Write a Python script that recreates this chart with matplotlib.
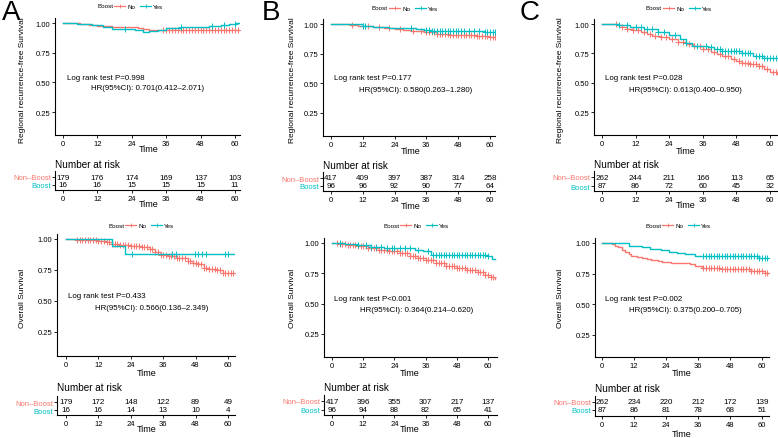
import numpy as np
import matplotlib
matplotlib.use("Agg")
import matplotlib.pyplot as plt
from matplotlib.lines import Line2D

plt.rcParams['font.family'] = ['Liberation Sans', 'DejaVu Sans']

RED = '#F8766D'
TEAL = '#00BFC4'

# ---------------- DATA ----------------
times_ticks = [0, 12, 24, 36, 48, 60]
group_labels = ['Non\u2013Boost', 'Boost']
panel_letters = ['A', 'B', 'C']
ylabels = ['Regional recurrence-free Survival', 'Overall Survival']

# Panel A - regional recurrence-free survival
A_rrfs_no_t = [0, 6, 9, 12, 15, 17, 26, 28, 30, 62.5]
A_rrfs_no_s = [1.0, 0.995, 0.985, 0.978, 0.972, 0.968, 0.96, 0.95, 0.94, 0.94]
A_rrfs_no_cens = [35, 36, 37, 38, 39, 40, 41, 42, 43, 44, 45, 46, 47, 48, 49, 50,
                  51, 52, 53, 54, 55, 56, 57, 58, 59, 60, 61, 62]
A_rrfs_yes_t = [0, 5, 10, 14, 17, 25, 28, 30, 33, 36, 41, 51, 55, 58, 60.5, 62.5]
A_rrfs_yes_s = [1.0, 0.99, 0.98, 0.965, 0.952, 0.945, 0.925, 0.935, 0.945, 0.955,
                0.968, 0.972, 0.98, 0.99, 1.0, 1.0]
A_rrfs_yes_cens = [21.5, 41, 52, 56, 60]
A_rrfs_risk_no = [179, 176, 174, 169, 137, 103]
A_rrfs_risk_yes = [16, 16, 15, 15, 15, 11]
A_rrfs_p = 'Log rank test P=0.998'
A_rrfs_hr = 'HR(95%CI): 0.701(0.412\u20132.071)'

# Panel A - overall survival
A_os_no_t = [0, 4, 8, 12, 15, 17, 20, 24, 28, 31, 33, 35, 38, 41, 45, 47, 49, 51,
             53, 56, 58, 63.5]
A_os_no_s = [1.0, 0.995, 0.99, 0.984, 0.975, 0.96, 0.95, 0.944, 0.936, 0.92, 0.895,
             0.87, 0.86, 0.845, 0.825, 0.81, 0.795, 0.77, 0.755, 0.75, 0.725, 0.725]
A_os_no_cens = [4, 5, 6, 7, 8, 9, 10, 11, 12, 13, 14, 15, 16, 17, 18, 19, 20, 21,
                22, 23, 24, 25, 26, 27, 28, 29, 30, 31, 32, 33, 34, 35, 36, 37, 38,
                39, 40, 41, 42, 43, 44, 45, 46, 47, 48, 49, 50, 51, 52, 53, 54, 55,
                56, 57, 58, 59, 60, 61, 62]
A_os_yes_t = [0, 17, 22, 63.5]
A_os_yes_s = [1.0, 0.94, 0.876, 0.876]
A_os_yes_cens = [24.5, 39.3, 40.9, 47.7, 49, 50.2, 52, 58.8, 60.1]
A_os_risk_no = [179, 172, 148, 122, 89, 49]
A_os_risk_yes = [16, 16, 14, 13, 10, 4]
A_os_p = 'Log rank test P=0.433'
A_os_hr = 'HR(95%CI): 0.566(0.136\u20132.349)'

# Panel B - regional recurrence-free survival
B_rrfs_no_t = [0, 7, 10, 13, 16, 20, 24, 27, 30, 35, 40, 45, 50, 55, 60, 62.5]
B_rrfs_no_s = [1.0, 0.993, 0.987, 0.982, 0.977, 0.97, 0.96, 0.95, 0.944, 0.93,
               0.917, 0.91, 0.905, 0.898, 0.89, 0.888]
B_rrfs_no_cens = [8, 12, 14, 18, 22, 26, 31, 34, 36, 37, 38, 39, 40, 41, 42, 43, 44,
                  45, 46, 47, 48, 49, 50, 51, 52, 53, 54, 55, 56, 57, 58, 59, 60, 61, 62]
B_rrfs_yes_t = [0, 12, 16, 22, 27, 32, 35, 38, 45, 58, 62.5]
B_rrfs_yes_s = [1.0, 0.985, 0.977, 0.97, 0.966, 0.958, 0.948, 0.94, 0.938, 0.93, 0.93]
B_rrfs_yes_cens = [12, 13, 30, 36, 37, 38, 39, 40, 41, 42, 43, 44, 45, 46, 47, 48,
                   49, 50, 52, 54, 56, 58, 59, 60, 61, 62]
B_rrfs_risk_no = [417, 409, 397, 387, 314, 258]
B_rrfs_risk_yes = [96, 96, 92, 90, 77, 64]
B_rrfs_p = 'Log rank test P=0.177'
B_rrfs_hr = 'HR(95%CI): 0.580(0.263\u20131.280)'

# Panel B - overall survival
B_os_no_t = [0, 3, 6, 10, 14, 18, 22, 26, 30, 33, 36, 40, 44, 48, 52, 56, 59, 61, 62.5]
B_os_no_s = [1.0, 0.995, 0.985, 0.975, 0.96, 0.945, 0.93, 0.915, 0.89, 0.875, 0.86,
             0.835, 0.81, 0.79, 0.775, 0.76, 0.74, 0.72, 0.705]
B_os_no_cens = [2, 3, 4, 5, 6, 7, 8, 9, 10, 11, 12, 13, 14, 15, 16, 17, 18, 19, 20,
                21, 22, 23, 24, 25, 26, 27, 28, 29, 30, 31, 32, 33, 34, 35, 36, 37, 38,
                39, 40, 41, 42, 43, 44, 45, 46, 47, 48, 49, 50, 51, 52, 53, 54, 55, 56,
                57, 58, 59, 60, 61, 62]
B_os_yes_t = [0, 5, 10, 15, 20, 27, 32, 35, 38, 60, 61.5, 62.5]
B_os_yes_s = [1.0, 0.99, 0.98, 0.97, 0.96, 0.955, 0.945, 0.93, 0.9, 0.89, 0.87, 0.87]
B_os_yes_cens = [3, 10, 13, 15, 17, 19, 21, 23, 24, 26, 28, 30, 33, 37, 39, 40, 41,
                 42, 43, 44, 45, 46, 47, 48, 49, 50, 51, 52, 53, 54, 55, 56, 57, 58,
                 59, 60]
B_os_risk_no = [417, 396, 355, 307, 217, 137]
B_os_risk_yes = [96, 94, 88, 82, 65, 41]
B_os_p = 'Log rank test P<0.001'
B_os_hr = 'HR(95%CI): 0.364(0.214\u20130.620)'

# Panel C - regional recurrence-free survival
C_rrfs_no_t = [0, 5.5, 7, 9, 11, 14, 16, 18, 21, 24, 27, 30, 33, 36, 39, 41, 43, 46,
               48, 50, 53, 56, 58, 60, 62.5]
C_rrfs_no_s = [1.0, 0.99, 0.975, 0.957, 0.945, 0.929, 0.915, 0.9, 0.89, 0.872, 0.85,
               0.83, 0.81, 0.787, 0.765, 0.744, 0.725, 0.7, 0.685, 0.665, 0.655, 0.645,
               0.615, 0.595, 0.57]
C_rrfs_no_cens = [5, 7, 9, 11, 13, 15, 17, 19, 21, 23, 25, 27, 29, 31, 33, 35, 36,
                  38, 40, 42, 44, 45, 47, 49, 50, 51, 52, 53, 54, 55, 56, 57, 59, 61, 62]
C_rrfs_yes_t = [0, 6, 10, 15, 20, 24, 28, 30, 32, 38, 40, 43, 50, 54, 58, 62.5]
C_rrfs_yes_s = [1.0, 0.99, 0.975, 0.955, 0.93, 0.905, 0.875, 0.84, 0.815, 0.805,
                0.787, 0.767, 0.755, 0.73, 0.712, 0.71]
C_rrfs_yes_cens = [6, 9, 12, 14, 16, 18, 20, 22, 26, 30, 34, 37, 39, 41, 42, 43, 44,
                   45, 46, 47, 48, 49, 50, 51, 52, 53, 55, 56, 57, 58, 59, 60, 61, 62]
C_rrfs_risk_no = [262, 244, 211, 166, 113, 65]
C_rrfs_risk_yes = [87, 86, 72, 60, 45, 32]
C_rrfs_p = 'Log rank test P=0.028'
C_rrfs_hr = 'HR(95%CI): 0.613(0.400\u20130.950)'

# Panel C - overall survival
C_os_no_t = [0, 3.6, 5, 6, 7.5, 8.5, 10, 11, 13, 15, 17, 18.5, 21, 22.4, 26, 30, 33,
             35, 37.4, 45, 53.7, 56, 58.6, 61, 62.5]
C_os_no_s = [1.0, 0.99, 0.975, 0.965, 0.945, 0.924, 0.91, 0.897, 0.888, 0.878, 0.87,
             0.861, 0.85, 0.842, 0.838, 0.834, 0.825, 0.815, 0.793, 0.788, 0.785,
             0.775, 0.769, 0.755, 0.747]
C_os_no_cens = [38, 39, 40, 41, 42, 43, 44, 45, 46, 47, 48, 49, 50, 51, 52, 53, 54,
                55, 56, 57, 58, 59, 60, 61, 62]
C_os_yes_t = [0, 10, 15, 18, 22, 25, 28, 31, 35, 59, 62.5]
C_os_yes_s = [1.0, 0.978, 0.965, 0.955, 0.94, 0.93, 0.918, 0.91, 0.897, 0.878, 0.878]
C_os_yes_cens = [38, 39, 40, 41, 42, 43, 44, 45, 46, 47, 48, 49, 50, 51, 52, 53, 54,
                 55, 56, 57, 58, 59, 60, 61, 62]
C_os_risk_no = [262, 234, 220, 212, 172, 139]
C_os_risk_yes = [87, 86, 81, 78, 68, 51]
C_os_p = 'Log rank test P=0.002'
C_os_hr = 'HR(95%CI): 0.375(0.200\u20130.705)'

# ---------------- LAYOUT (pixels) ----------------
W, H = 778, 439
fig = plt.figure(figsize=(W / 100, H / 100), dpi=100)

panels = [
    dict(no=(A_rrfs_no_t, A_rrfs_no_s, A_rrfs_no_cens), yes=(A_rrfs_yes_t, A_rrfs_yes_s, A_rrfs_yes_cens),
         risk=(A_rrfs_risk_no, A_rrfs_risk_yes), p=A_rrfs_p, hr=A_rrfs_hr, ylab=ylabels[0],
         L=55, R=240, x0=63, x60=235, T=19, B=136, y1=24, y25=113,
         tT=172, r1=178, r2=186, tB=191, title_y=165, time1=150, time2=205,
         ylab_x=23, ylab_y=80, p_xy=(67, 78), hr_xy=(91, 89), leg=(97, 7), letter=(2, 0, 'A')),
    dict(no=(A_os_no_t, A_os_no_s, A_os_no_cens), yes=(A_os_yes_t, A_os_yes_s, A_os_yes_cens),
         risk=(A_os_risk_no, A_os_risk_yes), p=A_os_p, hr=A_os_hr, ylab=ylabels[1],
         L=57, R=235, x0=66, x60=228, T=235, B=357, y1=240, y25=333,
         tT=397, r1=403, r2=411, tB=416, title_y=388, time1=373, time2=430,
         ylab_x=23, ylab_y=298, p_xy=(68, 296), hr_xy=(95, 309), leg=(108, 226), letter=None),
    dict(no=(B_rrfs_no_t, B_rrfs_no_s, B_rrfs_no_cens), yes=(B_rrfs_yes_t, B_rrfs_yes_s, B_rrfs_yes_cens),
         risk=(B_rrfs_risk_no, B_rrfs_risk_yes), p=B_rrfs_p, hr=B_rrfs_hr, ylab=ylabels[0],
         L=323, R=495, x0=331, x60=490, T=20, B=137, y1=25, y25=114,
         tT=173, r1=179, r2=187, tB=192, title_y=166, time1=151, time2=207,
         ylab_x=292, ylab_y=80, p_xy=(334, 79), hr_xy=(359, 90), leg=(372, 9), letter=(262, 0, 'B')),
    dict(no=(B_os_no_t, B_os_no_s, B_os_no_cens), yes=(B_os_yes_t, B_os_yes_s, B_os_yes_cens),
         risk=(B_os_risk_no, B_os_risk_yes), p=B_os_p, hr=B_os_hr, ylab=ylabels[1],
         L=324, R=497, x0=332, x60=488, T=239, B=358, y1=244, y25=335,
         tT=396, r1=402, r2=411, tB=416, title_y=388, time1=373, time2=430,
         ylab_x=293, ylab_y=298, p_xy=(334, 300), hr_xy=(360, 311), leg=(383, 226), letter=None),
    dict(no=(C_rrfs_no_t, C_rrfs_no_s, C_rrfs_no_cens), yes=(C_rrfs_yes_t, C_rrfs_yes_s, C_rrfs_yes_cens),
         risk=(C_rrfs_risk_no, C_rrfs_risk_yes), p=C_rrfs_p, hr=C_rrfs_hr, ylab=ylabels[0],
         L=594, R=778, x0=602, x60=770, T=20, B=136, y1=25, y25=113,
         tT=172, r1=178, r2=187, tB=192, title_y=165, time1=151, time2=206,
         ylab_x=561, ylab_y=80, p_xy=(605, 79), hr_xy=(629, 90), leg=(646, 9), letter=(520, 0, 'C')),
    dict(no=(C_os_no_t, C_os_no_s, C_os_no_cens), yes=(C_os_yes_t, C_os_yes_s, C_os_yes_cens),
         risk=(C_os_risk_no, C_os_risk_yes), p=C_os_p, hr=C_os_hr, ylab=ylabels[1],
         L=595, R=769, x0=602, x60=762, T=239, B=358, y1=244, y25=336,
         tT=397, r1=403, r2=411, tB=417, title_y=389, time1=374, time2=435,
         ylab_x=561, ylab_y=298, p_xy=(605, 300), hr_xy=(629, 311), leg=(645, 226), letter=None),
]

FS_TICK = 5.5
FS_TXT = 5.7
FS_LAB = 6.0


def add_px_axes(L, R, T, B):
    return fig.add_axes([L / W, 1 - B / H, (R - L) / W, (B - T) / H])


def style_axes(ax):
    for s in ['top', 'right']:
        ax.spines[s].set_visible(False)
    for s in ['left', 'bottom']:
        ax.spines[s].set_linewidth(0.8)
        ax.spines[s].set_color('black')
    ax.tick_params(length=2.2, width=0.6, pad=1.2, labelsize=FS_TICK, colors='black')
    ax.set_facecolor('none')


def step_value(t, s, x):
    idx = np.searchsorted(np.asarray(t), np.asarray(x), side='right') - 1
    idx = np.clip(idx, 0, len(s) - 1)
    return np.asarray(s)[idx]


for p in panels:
    k = (p['x60'] - p['x0']) / 60.0
    xlim = ((p['L'] - p['x0']) / k, (p['R'] - p['x0']) / k)
    ky = (p['y25'] - p['y1']) / 0.75
    ylim = (1 - (p['B'] - p['y1']) / ky, 1 + (p['y1'] - p['T']) / ky)

    ax = add_px_axes(p['L'], p['R'], p['T'], p['B'])
    style_axes(ax)
    for (t, s, cens), col in [(p['no'], RED), (p['yes'], TEAL)]:
        ax.step(t, s, where='post', color=col, lw=1.0, clip_on=True)
        ax.plot(cens, step_value(t, s, cens), ls='none', marker='+', ms=3.8, mew=0.7,
                color=col, clip_on=True)
    ax.set_xlim(*xlim)
    ax.set_ylim(*ylim)
    ax.set_xticks(times_ticks)
    ax.set_yticks([0.25, 0.50, 0.75, 1.00])
    ax.set_yticklabels(['0.25', '0.50', '0.75', '1.00'])
    fig.text(p['ylab_x'] / W, 1 - p['ylab_y'] / H, p['ylab'], rotation=90,
             ha='center', va='center', fontsize=FS_LAB)
    fig.text((p['x0'] + p['x60']) / 2 / W, 1 - p['time1'] / H, 'Time',
             ha='center', va='center', fontsize=FS_LAB + 0.5)
    fig.text(p['p_xy'][0] / W, 1 - p['p_xy'][1] / H, p['p'], ha='left', va='center',
             fontsize=FS_TXT)
    fig.text(p['hr_xy'][0] / W, 1 - p['hr_xy'][1] / H, p['hr'], ha='left', va='center',
             fontsize=FS_TXT)

    # legend
    lx, ly = p['leg']
    fig.text(lx / W, 1 - ly / H, 'Boost', ha='left', va='center', fontsize=4.5)
    handles = [Line2D([], [], color=RED, marker='+', ms=3, mew=0.6, lw=0.9),
               Line2D([], [], color=TEAL, marker='+', ms=3, mew=0.6, lw=0.9)]
    fig.legend(handles, ['No', 'Yes'], ncol=2, frameon=False, fontsize=4.5,
               loc='center left', bbox_to_anchor=((lx + 17) / W, 1 - ly / H),
               handlelength=1.8, handletextpad=0.3, columnspacing=0.8, borderpad=0,
               borderaxespad=0)

    if p['letter'] is not None:
        lxp, lyp, lt = p['letter']
        fig.text(lxp / W, 1 - lyp / H, lt, ha='left', va='top', fontsize=20)

    # risk table
    tax = add_px_axes(p['L'], p['R'], p['tT'], p['tB'])
    style_axes(tax)
    kr = p['r2'] - p['r1']
    tax.set_xlim(*xlim)
    tax.set_ylim(1 - (p['tB'] - p['r2']) / kr, 2 + (p['r1'] - p['tT']) / kr)
    tax.set_xticks(times_ticks)
    tax.set_yticks([2, 1])
    tax.set_yticklabels(group_labels)
    for lab, col in zip(tax.get_yticklabels(), [RED, TEAL]):
        lab.set_color(col)
    tax.tick_params(axis='y', pad=0.6)
    rn, ry = p['risk']
    for tt, a, b in zip(times_ticks, rn, ry):
        tax.text(tt, 2, str(a), ha='center', va='center', fontsize=FS_TICK + 0.3)
        tax.text(tt, 1, str(b), ha='center', va='center', fontsize=FS_TICK + 0.3)
    fig.text(p['L'] / W, 1 - p['title_y'] / H, 'Number at risk', ha='left', va='center',
             fontsize=7.2)
    fig.text((p['x0'] + p['x60']) / 2 / W, 1 - p['time2'] / H, 'Time',
             ha='center', va='center', fontsize=FS_LAB + 0.5)

fig.savefig('out.png', dpi=100)
